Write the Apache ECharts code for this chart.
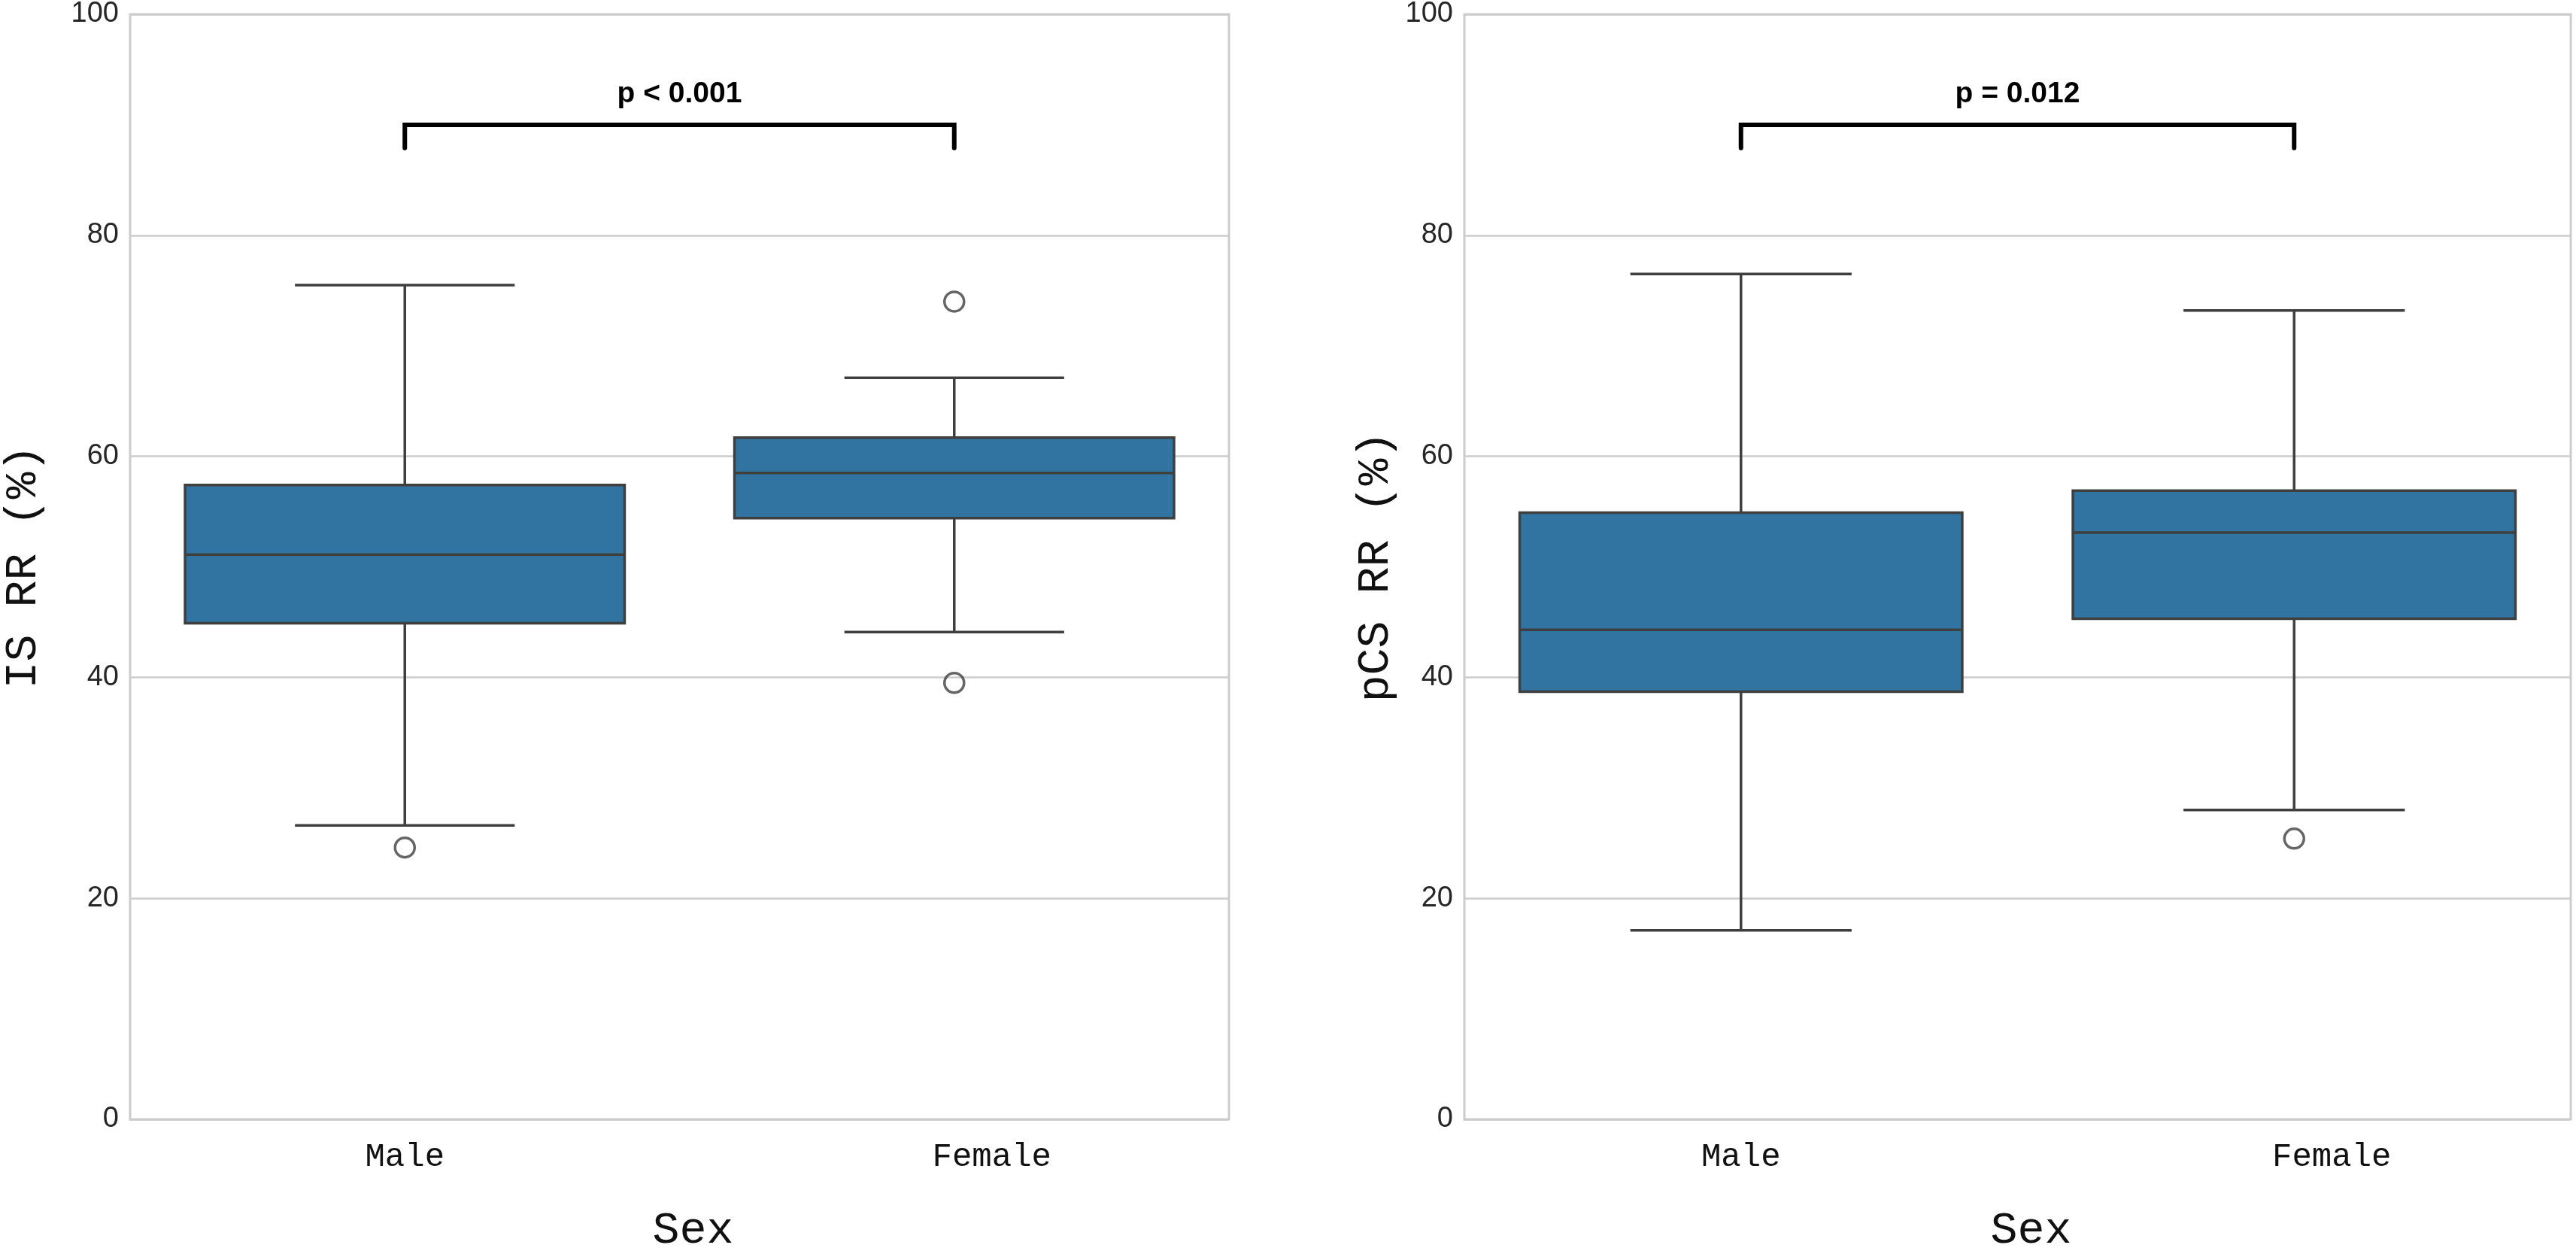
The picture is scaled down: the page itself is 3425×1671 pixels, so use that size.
<!DOCTYPE html>
<html>
<head>
<meta charset="utf-8">
<script src="https://cdn.jsdelivr.net/npm/echarts@6/dist/echarts.min.js"></script>
<style>
html,body{margin:0;padding:0;background:#fff;}
#chart{width:3425px;height:1671px;}
</style>
</head>
<body>
<div id="chart"></div>
<script>
// ---- data ----
const categories = ['Male', 'Female'];
// [min whisker, Q1, median, Q3, max whisker]
const isStats = [
  [26.6, 44.9, 51.1, 57.4, 75.5],
  [44.1, 54.4, 58.5, 61.7, 67.1]
];
const isOutliers = [[0, 24.6], [1, 74.0], [1, 39.5]];
const pcsStats = [
  [17.1, 38.7, 44.3, 54.9, 76.5],
  [28.0, 45.3, 53.1, 56.9, 73.2]
];
const pcsOutliers = [[1, 25.4]];
const yTicks = [0, 20, 40, 60, 80, 100];
const pLabels = ['p < 0.001', 'p = 0.012'];
const yNames = ['IS RR (%)', 'pCS RR (%)'];
const xName = 'Sex';

// ---- styles ----
const BOX_FILL = '#3274a1';
const LINE = '#3f3f3f';
const GRIDC = '#cccccc';
const MONO = "'Courier New', 'Liberation Mono', monospace";
const SANS = "Arial, 'Liberation Sans', sans-serif";

function boxRender(params, api) {
  const x = api.value(0);
  const pMin = api.coord([x, api.value(1)]);
  const pQ1 = api.coord([x, api.value(2)]);
  const pMed = api.coord([x, api.value(3)]);
  const pQ3 = api.coord([x, api.value(4)]);
  const pMax = api.coord([x, api.value(5)]);
  const band = api.size([1, 0])[0];
  const bw = band * 0.8;
  const cw = bw / 2;
  const cx = pMed[0];
  const ls = {stroke: LINE, lineWidth: 3.5};
  return {
    type: 'group',
    children: [
      {type: 'line', shape: {x1: cx, y1: pQ3[1], x2: cx, y2: pMax[1]}, style: ls},
      {type: 'line', shape: {x1: cx, y1: pQ1[1], x2: cx, y2: pMin[1]}, style: ls},
      {type: 'line', shape: {x1: cx - cw / 2, y1: pMax[1], x2: cx + cw / 2, y2: pMax[1]}, style: ls},
      {type: 'line', shape: {x1: cx - cw / 2, y1: pMin[1], x2: cx + cw / 2, y2: pMin[1]}, style: ls},
      {type: 'rect', shape: {x: cx - bw / 2, y: pQ3[1], width: bw, height: pQ1[1] - pQ3[1]},
        style: {fill: BOX_FILL, stroke: LINE, lineWidth: 3.5}},
      {type: 'line', shape: {x1: cx - bw / 2, y1: pMed[1], x2: cx + bw / 2, y2: pMed[1]}, style: ls}
    ]
  };
}

const BRACKET_Y = 90, BRACKET_DROP = 2.1, TEXT_Y = 92.8;
function makeBracketRender(label) {
  return function (params, api) {
    const a = api.value(0), b = api.value(1);
    const p1 = api.coord([a, BRACKET_Y - BRACKET_DROP]);
    const p2 = api.coord([a, BRACKET_Y]);
    const p3 = api.coord([b, BRACKET_Y]);
    const p4 = api.coord([b, BRACKET_Y - BRACKET_DROP]);
    const t = api.coord([a, TEXT_Y]);
    const tx = (p2[0] + p3[0]) / 2;
    return {
      type: 'group',
      children: [
        {type: 'polyline', shape: {points: [p1, p2, p3, p4]},
          style: {stroke: '#000', lineWidth: 6, fill: null, lineJoin: 'miter', lineCap: 'round'}},
        {type: 'text', x: tx, y: t[1],
          style: {text: label, fill: '#000',
            font: 'bold 39px ' + SANS, align: 'center', verticalAlign: 'middle'}}
      ]
    };
  };
}

const grids = [
  {left: 163, top: 17, width: 1471, height: 1486, show: true, borderColor: GRIDC, borderWidth: 3, backgroundColor: '#fff'},
  {left: 1947, top: 17, width: 1471, height: 1486, show: true, borderColor: GRIDC, borderWidth: 3, backgroundColor: '#fff'}
];

function xAx(i) {
  return {
    type: 'category', gridIndex: i, data: categories,
    axisLine: {show: false}, axisTick: {show: false},
    axisLabel: {fontFamily: MONO, fontSize: 44, color: '#111', margin: 28,
      formatter: v => v === 'Female' ? '{f|' + v + '}' : '{m|' + v + '}',
      rich: {
        m: {fontFamily: MONO, fontSize: 44, color: '#111'},
        f: {fontFamily: MONO, fontSize: 44, color: '#111', padding: [0, 0, 0, 100]}
      }},
    name: xName, nameLocation: 'middle', nameGap: 118,
    nameTextStyle: {fontFamily: MONO, fontSize: 60, color: '#111', padding: [0, 0, 0, 36]},
    splitLine: {show: false}
  };
}
function yAx(i, gap) {
  return {
    type: 'value', gridIndex: i, min: 0, max: 100, interval: 20,
    axisLine: {show: false}, axisTick: {show: false},
    axisLabel: {fontFamily: SANS, fontSize: 38, color: '#262626', margin: 15,
      formatter: v => yTicks.indexOf(v) >= 0 ? String(v) : ''},
    splitLine: {show: true, lineStyle: {color: GRIDC, width: 2.5}},
    name: yNames[i], nameLocation: 'middle', nameGap: gap,
    nameTextStyle: {fontFamily: MONO, fontSize: 60, color: '#111'}
  };
}

function boxData(stats) {
  return stats.map((s, i) => [i].concat(s));
}

const outlierStyle = {color: 'rgba(0,0,0,0)', borderColor: LINE, borderWidth: 3.5};

const option = {
  animation: false,
  backgroundColor: '#fff',
  grid: grids,
  xAxis: [xAx(0), xAx(1)],
  yAxis: [yAx(0, 112), yAx(1, 88)],
  series: [
    {type: 'custom', xAxisIndex: 0, yAxisIndex: 0, renderItem: boxRender,
      encode: {x: 0, y: [1, 2, 3, 4, 5]}, data: boxData(isStats), z: 3},
    {type: 'custom', xAxisIndex: 0, yAxisIndex: 0, renderItem: makeBracketRender(pLabels[0]),
      encode: {x: [0, 1]}, data: [[0, 1]], z: 4},
    {type: 'scatter', xAxisIndex: 0, yAxisIndex: 0, data: isOutliers,
      symbol: 'circle', symbolSize: 26, itemStyle: outlierStyle, z: 4},
    {type: 'custom', xAxisIndex: 1, yAxisIndex: 1, renderItem: boxRender,
      encode: {x: 0, y: [1, 2, 3, 4, 5]}, data: boxData(pcsStats), z: 3},
    {type: 'custom', xAxisIndex: 1, yAxisIndex: 1, renderItem: makeBracketRender(pLabels[1]),
      encode: {x: [0, 1]}, data: [[0, 1]], z: 4},
    {type: 'scatter', xAxisIndex: 1, yAxisIndex: 1, data: pcsOutliers,
      symbol: 'circle', symbolSize: 26, itemStyle: outlierStyle, z: 4}
  ]
};

const chart = echarts.init(document.getElementById('chart'), null, {renderer: 'canvas'});
chart.setOption(option);
</script>
</body>
</html>
